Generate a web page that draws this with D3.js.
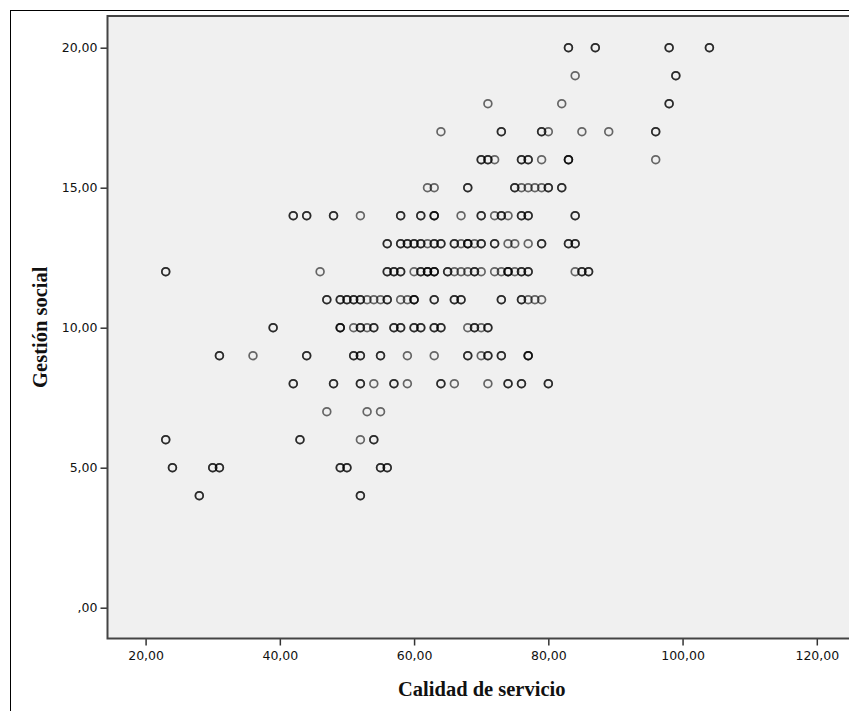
<!DOCTYPE html>
<html>
<head>
<meta charset="utf-8">
<script src="https://cdn.jsdelivr.net/npm/d3@7/dist/d3.min.js"></script>
<style>
  html, body { margin: 0; padding: 0; background: #ffffff; }
  svg { display: block; }
</style>
</head>
<body>
<svg id="chart" width="849" height="711"></svg>
<script>
// Gestión social levels (y) and the Calidad de servicio score of every case at each level.
// A value listed more than once is several cases falling on the same spot.
const gestionLevels = [20, 19, 18, 17, 16, 15, 14, 13, 12, 11, 10, 9, 8, 7, 6, 5, 4];
const calidadCases = [
  [83, 83, 87, 87, 98, 98, 104, 104],
  [84, 99, 99],
  [71, 82, 98, 98],
  [64, 73, 73, 79, 79, 80, 85, 89, 96, 96],
  [70, 70, 71, 71, 72, 76, 76, 77, 77, 79, 83, 83, 83, 96],
  [62, 63, 68, 68, 75, 75, 76, 77, 78, 79, 80, 80, 82, 82],
  [42, 42, 44, 44, 48, 48, 52, 58, 58, 61, 61, 63, 63, 63, 67, 70, 70, 72, 73, 73, 74, 76, 76, 77, 77, 84, 84],
  [56, 56, 58, 58, 59, 59, 60, 60, 61, 61, 62, 63, 63, 64, 64, 66, 66, 67, 68, 68, 68, 69, 70, 70, 72, 72, 74, 75, 77, 79, 79, 83, 83, 84, 84],
  [23, 23, 46, 56, 56, 57, 57, 58, 58, 60, 61, 61, 62, 62, 62, 63, 63, 63, 65, 65, 66, 67, 68, 69, 69, 70, 72, 73, 74, 74, 74, 75, 76, 76, 77, 77, 84, 85, 85, 86, 86],
  [47, 47, 49, 49, 50, 50, 51, 51, 52, 52, 53, 54, 55, 56, 56, 58, 59, 60, 60, 60, 63, 63, 66, 66, 67, 67, 73, 73, 76, 76, 77, 78, 79],
  [39, 39, 49, 49, 49, 51, 52, 52, 53, 54, 54, 57, 57, 58, 58, 60, 60, 61, 61, 63, 63, 64, 64, 68, 69, 69, 70, 71, 71],
  [31, 31, 36, 44, 44, 51, 51, 52, 52, 55, 55, 59, 63, 68, 68, 70, 71, 71, 73, 73, 77, 77, 77],
  [42, 42, 48, 48, 52, 52, 54, 57, 57, 59, 64, 64, 66, 71, 74, 74, 76, 76, 80, 80],
  [47, 53, 55],
  [23, 23, 43, 43, 52, 54, 54],
  [24, 24, 30, 30, 31, 31, 49, 49, 50, 50, 55, 55, 56, 56],
  [28, 28, 52, 52]
];

const xTicks = [20, 40, 60, 80, 100, 120];
const yTicks = [0, 5, 10, 15, 20];
const xTitle = "Calidad de servicio";
const yTitle = "Gestión social";

// Flatten into one record per case
const cases = [];
gestionLevels.forEach((g, i) => {
  calidadCases[i].forEach(c => cases.push({ calidad: c, gestion: g }));
});

const svg = d3.select("#chart");

// Plot frame bounds
const plot = { left: 107.5, top: 16, right: 856, bottom: 638.5 };

const x = d3.scaleLinear().domain([20, 120]).range([145.6, 816.8]);
const y = d3.scaleLinear().domain([0, 20]).range([607.7, 47.7]);

const fmt = v => d3.format(".2f")(v).replace(".", ",").replace(/^0,/, ",");

// Outer chart border
svg.append("rect")
  .attr("x", 10.5).attr("y", 10.5)
  .attr("width", 900).attr("height", 800)
  .attr("fill", "#ffffff")
  .attr("stroke", "#000000")
  .attr("stroke-width", 1);

// Plot background
svg.append("rect")
  .attr("x", plot.left).attr("y", plot.top)
  .attr("width", plot.right - plot.left).attr("height", plot.bottom - plot.top)
  .attr("fill", "#f0f0f0");

// Markers
const markers = svg.append("g").attr("class", "markers");
markers.selectAll("circle")
  .data(cases)
  .join("circle")
  .attr("cx", d => x(d.calidad))
  .attr("cy", d => y(d.gestion))
  .attr("r", 3.9)
  .attr("fill", "none")
  .attr("stroke", "#000000")
  .attr("stroke-width", 1.7)
  .attr("stroke-opacity", 0.58);

// Axes
const xAxis = d3.axisBottom(x).tickValues(xTicks).tickFormat(fmt).tickSize(7).tickSizeOuter(0);
const yAxis = d3.axisLeft(y).tickValues(yTicks).tickFormat(fmt).tickSize(7).tickSizeOuter(0);

const gx = svg.append("g")
  .attr("transform", `translate(0,${plot.bottom})`)
  .call(xAxis);
gx.select(".domain").remove();
gx.selectAll(".tick line").attr("stroke", "#333333").attr("stroke-width", 1.5);
gx.selectAll(".tick text")
  .attr("y", 13)
  .attr("font-family", "DejaVu Sans")
  .attr("font-size", "12.5px")
  .attr("fill", "#111111");

const gy = svg.append("g")
  .attr("transform", `translate(${plot.left},0)`)
  .call(yAxis);
gy.select(".domain").remove();
gy.selectAll(".tick line").attr("stroke", "#333333").attr("stroke-width", 1.5);
gy.selectAll(".tick text")
  .attr("x", -10)
  .attr("font-family", "DejaVu Sans")
  .attr("font-size", "12.5px")
  .attr("fill", "#111111");

// Plot frame
svg.append("rect")
  .attr("x", plot.left).attr("y", plot.top)
  .attr("width", plot.right - plot.left).attr("height", plot.bottom - plot.top)
  .attr("fill", "none")
  .attr("stroke", "#444444")
  .attr("stroke-width", 2);

// Axis titles
svg.append("text")
  .attr("x", (plot.left + plot.right) / 2)
  .attr("y", 696)
  .attr("text-anchor", "middle")
  .attr("font-family", "Liberation Serif")
  .attr("font-weight", "bold")
  .attr("font-size", "20.5px")
  .attr("fill", "#111111")
  .text(xTitle);

svg.append("text")
  .attr("transform", `translate(47,${(plot.top + plot.bottom) / 2}) rotate(-90)`)
  .attr("text-anchor", "middle")
  .attr("font-family", "Liberation Serif")
  .attr("font-weight", "bold")
  .attr("font-size", "20.5px")
  .attr("fill", "#111111")
  .text(yTitle);
</script>
</body>
</html>
